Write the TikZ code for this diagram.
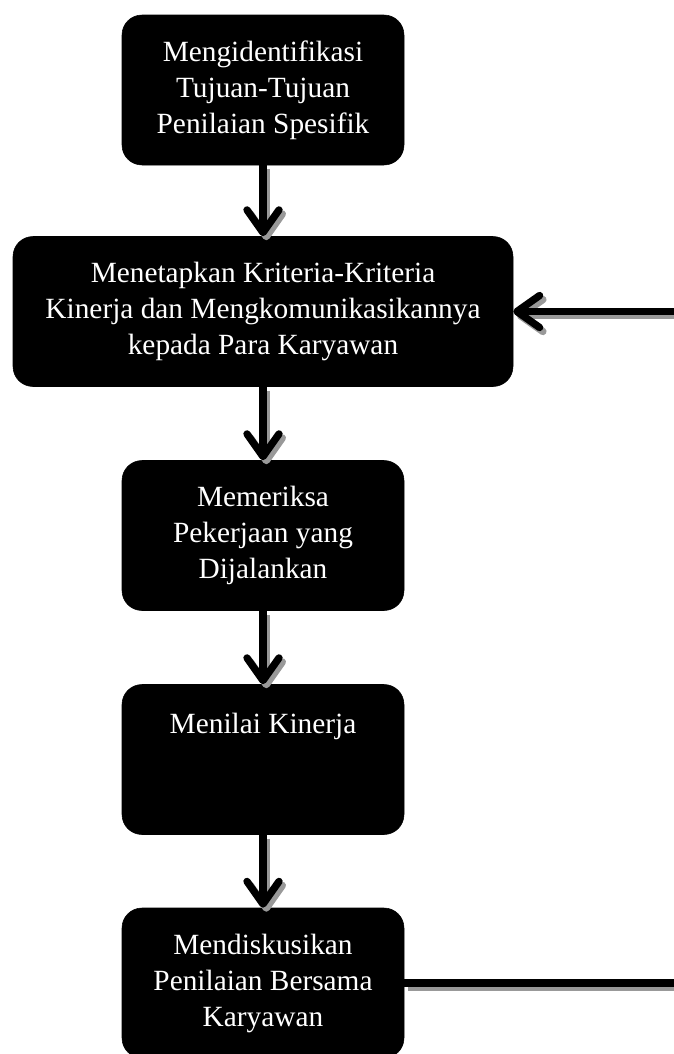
\documentclass[tikz,border=0pt]{standalone}
\usepackage{fontspec}
\setmainfont{Liberation Serif}
\usetikzlibrary{arrows.meta}

\begin{document}
\begin{tikzpicture}[x=0.75pt,y=-0.75pt,
	box/.style={rectangle, rounded corners=15pt, fill=black, draw=black, text=white, align=center,
		minimum width=211.5pt, minimum height=112.5pt, inner sep=0pt,
		font=\fontsize{22pt}{27pt}\selectfont},
	widebox/.style={box, minimum width=375pt},
	link/.style={line width=5.5pt, draw=black},
	flow/.style={link, -{Straight Barb[length=17pt,width=24pt,line cap=round,line join=round]}},
	shadow/.style={draw=black!40}]
	\useasboundingbox (0,0) rectangle (674,1054);

	\node 	(b1)	at	(263,90) 	[box]{Mengidentifikasi\\Tujuan-Tujuan\\Penilaian Spesifik};

	\node 	(b2)	at	(263,311.5) [widebox]{Menetapkan Kriteria-Kriteria\\Kinerja dan Mengkomunikasikannya\\kepada Para Karyawan};

	\node 	(b3)	at	(263,535.5) [box]{Memeriksa\\Pekerjaan yang\\Dijalankan};

	\node 	(b4)	at	(263,759.5) [box]{Menilai Kinerja\\~\\~};

	\node 	(b5)	at	(263,983) 	[box]{Mendiskusikan\\Penilaian Bersama\\Karyawan};

	\coordinate (in2)	at	(676,311.5);
	\coordinate (out5)	at	(676,983);

	% gray shadows under the connectors
	\begin{scope}[transform canvas={shift={(2.5pt,-3pt)}}]
		\draw[flow,shadow] (b1) 	-- 	(b2);
		\draw[flow,shadow] (b2) 	-- 	(b3);
		\draw[flow,shadow] (b3) 	-- 	(b4);
		\draw[flow,shadow] (b4) 	-- 	(b5);
		\draw[flow,shadow] (in2) 	-- 	(b2);
		\draw[link,shadow] (b5) 	-- 	(out5);
	\end{scope}

	\draw[flow] (b1) 	-- 	(b2);
	\draw[flow] (b2) 	-- 	(b3);
	\draw[flow] (b3) 	-- 	(b4);
	\draw[flow] (b4) 	-- 	(b5);

	\draw[flow] (in2) 	-- 	(b2);
	\draw[link] (b5) 	-- 	(out5);

\end{tikzpicture}
\end{document}
